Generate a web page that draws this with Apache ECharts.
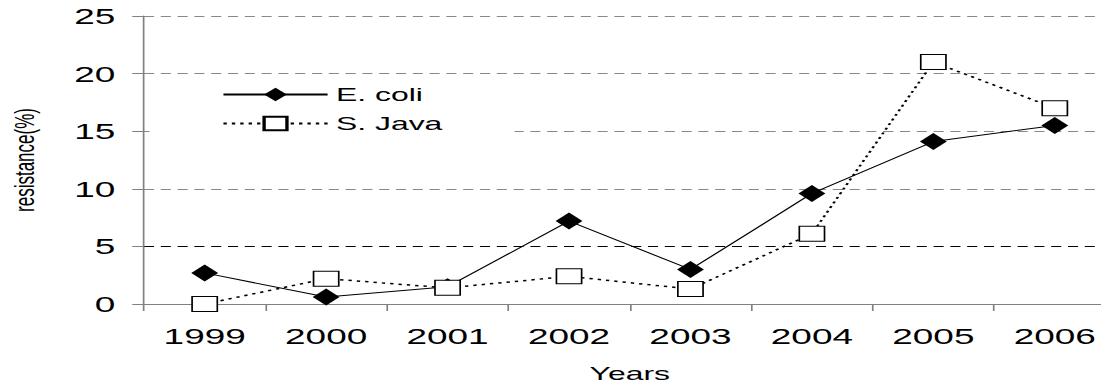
<!DOCTYPE html>
<html>
<head>
<meta charset="utf-8">
<script src="https://cdn.jsdelivr.net/npm/echarts@6/dist/echarts.min.js"></script>
<style>
  html, body { margin: 0; padding: 0; background: #fff; overflow: hidden; }
  /* the source figure is stretched sideways, so draw narrow and widen it */
  #chart { width: 656px; height: 385px; transform: scaleX(1.68); transform-origin: 0 0; }
</style>
</head>
<body>
<div id="chart"></div>
<script>
// data
const years = ['1999', '2000', '2001', '2002', '2003', '2004', '2005', '2006'];
const eColi = [2.7, 0.6, 1.5, 7.2, 3.0, 9.6, 14.1, 15.5];
const sJava = [0.0, 2.2, 1.4, 2.4, 1.3, 6.1, 21.0, 17.0];
const yTicks = [0, 5, 10, 15, 20, 25];

const font = 'Liberation Sans, Arial, sans-serif';
const chart = echarts.init(document.getElementById('chart'), null, { renderer: 'svg' });

const option = {
  animation: false,
  grid: { left: 85.7, right: -8, top: 16, bottom: 81, outerBoundsMode: 'none', containLabel: false },
  legend: {
    orient: 'vertical',
    left: 89,
    top: 79,
    padding: [6, 43, 6, 43],
    backgroundColor: '#fff',
    itemWidth: 62,
    itemHeight: 17,
    itemGap: 10,
    textStyle: { fontFamily: font, fontSize: 19, color: '#000' },
    data: ['E. coli', 'S. Java']
  },
  xAxis: {
    type: 'category',
    data: years,
    boundaryGap: true,
    name: 'Years',
    nameLocation: 'middle',
    nameGap: 60,
    nameTextStyle: { fontFamily: font, fontSize: 19, color: '#000' },
    axisLine: { lineStyle: { color: '#808080', width: 1 } },
    axisTick: { show: true, length: 7, alignWithLabel: false, lineStyle: { color: '#808080' } },
    axisLabel: { fontFamily: font, fontSize: 22, color: '#000', margin: 21 },
    splitLine: { show: false }
  },
  yAxis: {
    type: 'value',
    min: yTicks[0],
    max: yTicks[yTicks.length - 1],
    interval: 5,
    name: 'resistance(%)',
    nameLocation: 'middle',
    nameRotate: 90,
    nameGap: 63,
    nameTextStyle: { fontFamily: font, fontSize: 17, color: '#000' },
    axisLine: { show: true, lineStyle: { color: '#808080', width: 1 } },
    axisTick: { show: true, length: 7, lineStyle: { color: '#808080' } },
    axisLabel: { fontFamily: font, fontSize: 22, color: '#000', margin: 17 },
    splitLine: {
      show: true,
      lineStyle: {
        color: ['#888', '#000', '#888', '#888', '#888', '#888'],
        type: [6, 4],
        width: 1
      }
    }
  },
  series: [
    {
      name: 'E. coli',
      type: 'line',
      data: eColi,
      symbol: 'diamond',
      symbolSize: [16, 17],
      itemStyle: { color: '#000' },
      lineStyle: { color: '#000', width: 1 },
      z: 3
    },
    {
      name: 'S. Java',
      type: 'line',
      data: sJava,
      symbol: 'rect',
      symbolSize: [15, 15],
      itemStyle: { color: '#fff', borderColor: '#000', borderWidth: 1 },
      lineStyle: { color: '#000', width: 1.5, type: [2, 3] },
      z: 4
    }
  ]
};

chart.setOption(option);
</script>
</body>
</html>
